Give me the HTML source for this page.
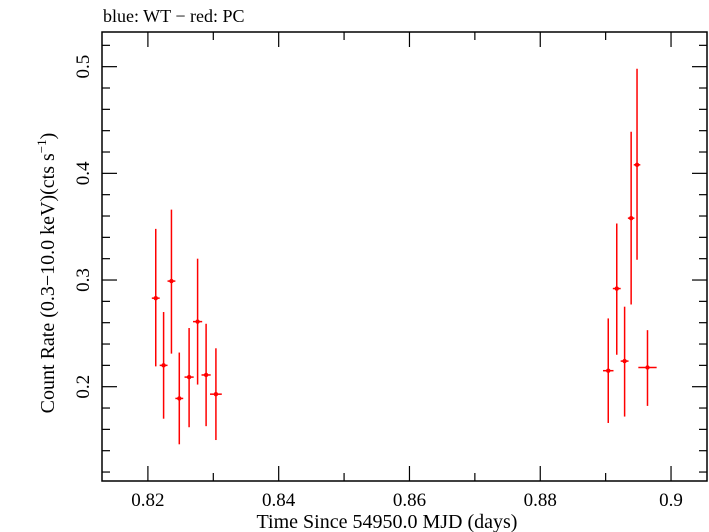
<!DOCTYPE html>
<html><head><meta charset="utf-8"><style>
body{margin:0;background:#fff;}
svg{display:block;font-family:"Liberation Serif",serif;}
</style></head><body>
<svg id="chart" width="709" height="532" viewBox="0 0 709 532" xmlns="http://www.w3.org/2000/svg">
<text x="103" y="22" font-size="18">blue: WT − red: PC</text>
<rect x="102" y="32" width="605" height="449" fill="none" stroke="#000" stroke-width="1.5"/>
<g id="axes"></g>
<g id="marks"></g>
<text x="387" y="528" font-size="20" text-anchor="middle">Time Since 54950.0 MJD (days)</text>
<text transform="translate(54,273) rotate(-90)" font-size="20" text-anchor="middle">Count Rate (0.3−10.0 keV)(cts s<tspan font-size="13" dy="-8">−1</tspan><tspan dy="8">)</tspan></text>
</svg>
<script>
const times=[0.8212,0.8224,0.8236,0.8248,0.8263,0.8276,0.8289,0.8304,0.8904,0.8917,0.8929,0.8939,0.8948,0.8964];
const timeErr=[0.0006,0.0006,0.0006,0.0006,0.0007,0.0007,0.0007,0.0009,0.0008,0.0006,0.0006,0.0005,0.0005,0.0014];
const rates=[0.283,0.220,0.299,0.189,0.209,0.261,0.211,0.193,0.215,0.292,0.224,0.358,0.408,0.218];
const rateHi=[0.348,0.270,0.366,0.232,0.255,0.320,0.259,0.236,0.264,0.353,0.275,0.439,0.498,0.253];
const rateLo=[0.219,0.170,0.231,0.146,0.162,0.202,0.163,0.150,0.166,0.230,0.172,0.277,0.319,0.182];
const xTicks=[0.82,0.84,0.86,0.88,0.9];
const xTickLabels=["0.82","0.84","0.86","0.88","0.9"];
const yTicks=[0.2,0.3,0.4,0.5];
const yTickLabels=["0.2","0.3","0.4","0.5"];
const NS="http://www.w3.org/2000/svg";
const X0=102,X1=707,Y0=32,Y1=481;
const xMin=0.81298,xMax=0.90550,yMin=0.1116,yMax=0.5325;
function sx(v){return X0+(v-xMin)/(xMax-xMin)*(X1-X0);}
function sy(v){return Y1-(v-yMin)/(yMax-yMin)*(Y1-Y0);}
function mk(tag,attrs,parent){const e=document.createElementNS(NS,tag);for(const k in attrs)e.setAttribute(k,attrs[k]);parent.appendChild(e);return e;}
const axes=document.getElementById('axes');
for(let v=0.82;v<=0.9001;v+=0.01){
  const major=Math.abs(Math.round(v*50)-v*50)<1e-6;const L=major?15:8;const x=sx(v);
  const t1=mk('line',{x1:x,x2:x,y1:Y1,y2:Y1-L,stroke:'#000','stroke-width':1.2},axes);
  
  
  const t2=mk('line',{x1:x,x2:x,y1:Y0,y2:Y0+L,stroke:'#000','stroke-width':1.2},axes);
  
  
}
for(let v=0.12;v<=0.5301;v+=0.02){
  const major=Math.abs(Math.round(v*10)-v*10)<1e-6;const L=major?15:8;const y=sy(v);
  const t1=mk('line',{x1:X0,x2:X0+L,y1:y,y2:y,stroke:'#000','stroke-width':1.2},axes);
  
  
  const t2=mk('line',{x1:X1,x2:X1-L,y1:y,y2:y,stroke:'#000','stroke-width':1.2},axes);
  
  
}
xTicks.forEach((v,i)=>{
  const t=mk('text',{x:sx(v),y:506,'font-size':19,'text-anchor':'middle'},axes);t.textContent=xTickLabels[i];
  
  
});
yTicks.forEach((v,i)=>{
  const y=sy(v);
  const t=mk('text',{x:0,y:0,'font-size':19,'text-anchor':'middle',transform:`translate(89,${y}) rotate(-90)`},axes);t.textContent=yTickLabels[i];
  
  
});
const marks=document.getElementById('marks');
times.forEach((t,i)=>{
  const g=mk('g',{},marks);
  
  
  mk('line',{x1:sx(t),x2:sx(t),y1:sy(rateHi[i]),y2:sy(rateLo[i]),stroke:'#f00','stroke-width':1.5},g);
  mk('line',{x1:sx(t-timeErr[i]),x2:sx(t+timeErr[i]),y1:sy(rates[i]),y2:sy(rates[i]),stroke:'#f00','stroke-width':1.5},g);
  mk('circle',{cx:sx(t),cy:sy(rates[i]),r:2.2,fill:'#f00'},g);
});
</script>
</body></html>
